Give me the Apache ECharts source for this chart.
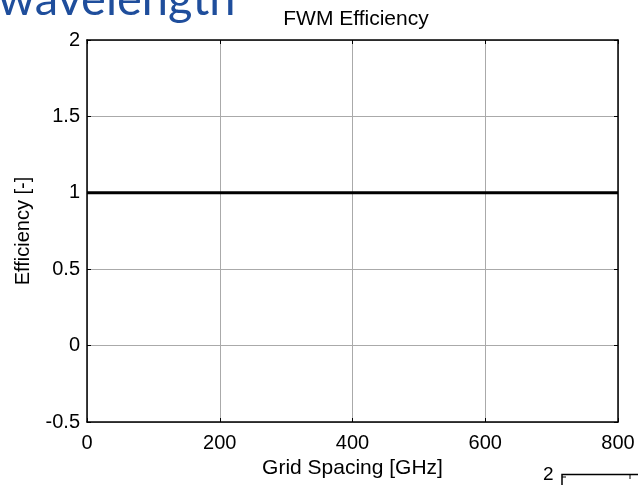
<!DOCTYPE html>
<html>
<head>
<meta charset="utf-8">
<script src="https://cdn.jsdelivr.net/npm/echarts@6/dist/echarts.min.js"></script>
<style>
html,body{margin:0;padding:0;background:#fff;}
#chart{width:638px;height:485px;}
</style>
</head>
<body>
<div id="chart"></div>
<script>
var gridSpacing = [0, 200, 400, 600, 800];
var efficiency = [1, 1, 1, 1, 1];
var xTickLabels = ['0', '200', '400', '600', '800'];
var yTickLabels = ['-0.5', '0', '0.5', '1', '1.5', '2'];

var FONT = 'Liberation Sans, Arial, sans-serif';
var chart = echarts.init(document.getElementById('chart'));
var pts = gridSpacing.map(function (x, i) { return [x, efficiency[i]]; });

var tickCommon = { show: true, inside: true, length: 4, lineStyle: { color: '#000', width: 1 } };

chart.setOption({
  animation: false,
  backgroundColor: '#fff',
  title: {
    text: 'FWM Efficiency',
    left: 351, top: 4, textAlign: 'center',
    textStyle: { fontFamily: FONT, fontSize: 21, fontWeight: 'normal', color: '#000' }
  },
  grid: { left: 87, right: 20, top: 40, bottom: 63, containLabel: false },
  xAxis: [{
    type: 'value', min: 0, max: 800, interval: 200, position: 'bottom',
    name: 'Grid Spacing [GHz]', nameLocation: 'middle', nameGap: 36,
    nameTextStyle: { fontFamily: FONT, fontSize: 21, color: '#000' },
    axisLine: { show: true, onZero: false, lineStyle: { color: '#000', width: 1.5 } },
    axisTick: tickCommon,
    axisLabel: { fontFamily: FONT, fontSize: 20, color: '#000', margin: 11,
      formatter: function (v) { var i = gridSpacing.indexOf(v); return i >= 0 ? xTickLabels[i] : ''; } },
    splitLine: { show: true, lineStyle: { color: '#aaaaaa', width: 1 } }
  }, {
    type: 'value', min: 0, max: 800, interval: 200, position: 'top',
    axisLine: { show: true, onZero: false, lineStyle: { color: '#000', width: 1.5 } },
    axisTick: tickCommon, axisLabel: { show: false }, splitLine: { show: false }
  }],
  yAxis: [{
    type: 'value', min: -0.5, max: 2, interval: 0.5, position: 'left',
    name: 'Efficiency [-]', nameLocation: 'middle', nameGap: 54,
    nameTextStyle: { fontFamily: FONT, fontSize: 20, color: '#000' },
    axisLine: { show: true, onZero: false, lineStyle: { color: '#000', width: 1.5 } },
    axisTick: tickCommon,
    axisLabel: { fontFamily: FONT, fontSize: 20, color: '#000', margin: 7,
      formatter: function (v) { var idx = Math.round((v + 0.5) / 0.5); return yTickLabels[idx] || ''; } },
    splitLine: { show: true, lineStyle: { color: '#aaaaaa', width: 1 } }
  }, {
    type: 'value', min: -0.5, max: 2, interval: 0.5, position: 'right',
    axisLine: { show: true, onZero: false, lineStyle: { color: '#000', width: 1.5 } },
    axisTick: tickCommon, axisLabel: { show: false }, splitLine: { show: false }
  }],
  series: [{
    type: 'line', data: pts, xAxisIndex: 0, yAxisIndex: 0,
    showSymbol: false, symbol: 'none',
    lineStyle: { color: '#000', width: 3 }
  }],
  graphic: [
    { type: 'text', left: -2, top: -24, style: { text: 'wavelength', font: '47px Lato, "Open Sans", sans-serif', fill: '#1f4e9c' } },
    { type: 'text', left: 543, top: 465, style: { text: '2', font: '19px Liberation Sans, Arial, sans-serif', fill: '#000' } },
    { type: 'rect', shape: { x: 562, y: 474.5, width: 100, height: 30 }, style: { fill: 'none', stroke: '#000', lineWidth: 1.5 } },
    { type: 'line', shape: { x1: 630, y1: 474.5, x2: 630, y2: 479 }, style: { stroke: '#000', lineWidth: 1 } },
    { type: 'line', shape: { x1: 562, y1: 477, x2: 566, y2: 477 }, style: { stroke: '#000', lineWidth: 1 } }
  ]
});
</script>
</body>
</html>
